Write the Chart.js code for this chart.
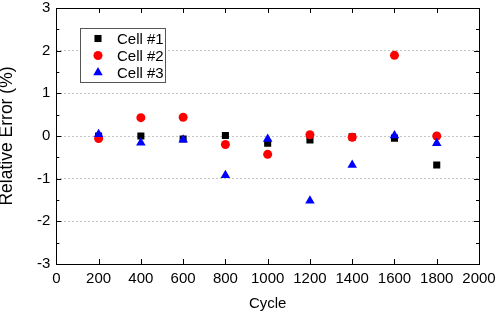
<!DOCTYPE html>
<html>
<head>
<meta charset="utf-8">
<script src="https://cdn.jsdelivr.net/npm/chart.js@4/dist/chart.umd.min.js"></script>
<style>
html, body { margin: 0; padding: 0; background: #fff; }
</style>
</head>
<body>
<canvas id="myChart" width="498" height="312"></canvas>
<script>
var cycles = [200, 400, 600, 800, 1000, 1200, 1400, 1600, 1800];
var cell1 = [0.0, 0.0, -0.07, 0.01, -0.17, -0.09, -0.02, -0.05, -0.68];
var cell2 = [-0.06, 0.43, 0.44, -0.2, -0.43, 0.03, -0.03, 1.89, 0.0];
var cell3 = [0.04, -0.16, -0.09, -0.92, -0.07, -1.52, -0.68, 0.01, -0.17];
var seriesNames = ['Cell #1', 'Cell #2', 'Cell #3'];
var xTicks = [0, 200, 400, 600, 800, 1000, 1200, 1400, 1600, 1800, 2000];
var yTicks = [-3, -2, -1, 0, 1, 2, 3];

function pts(vals) {
    return cycles.map(function(c, i){ return {x: c, y: vals[i]}; });
}

var fontFam = '"Liberation Sans", Arial, sans-serif';

// frame, inward ticks and the inset legend
var framePlugin = {
    id: 'frame',
    afterDraw: function(chart) {
        var ctx = chart.ctx, a = chart.chartArea;
        var xs = chart.scales.x, ys = chart.scales.y;
        ctx.save();
        ctx.strokeStyle = '#000';
        ctx.lineWidth = 1;
        ctx.strokeRect(Math.round(a.left) + 0.5, Math.round(a.top) + 0.5,
            Math.round(a.right - a.left), Math.round(a.bottom - a.top));
        ctx.beginPath();
        xTicks.forEach(function(v){
            var px = Math.round(xs.getPixelForValue(v)) + 0.5;
            ctx.moveTo(px, a.bottom); ctx.lineTo(px, a.bottom - 5);
            ctx.moveTo(px, a.top); ctx.lineTo(px, a.top + 5);
        });
        for (var v = -3; v <= 3; v += 0.5) {
            var py = Math.round(ys.getPixelForValue(v)) + 0.5;
            var len = (v % 1 === 0) ? 5 : 3;
            ctx.moveTo(a.left, py); ctx.lineTo(a.left + len, py);
            ctx.moveTo(a.right, py); ctx.lineTo(a.right - len, py);
        }
        ctx.stroke();

        // legend box
        var bx = 80.5, by = 28.5, bw = 85, bh = 54;
        ctx.fillStyle = '#fff';
        ctx.fillRect(bx, by, bw, bh);
        ctx.strokeStyle = '#555';
        ctx.strokeRect(bx, by, bw, bh);
        ctx.font = '15px ' + fontFam;
        ctx.textBaseline = 'middle';
        ctx.textAlign = 'left';
        chart.data.datasets.forEach(function(ds, i){
            var cy = by + 10 + i * 17;
            ctx.fillStyle = ds.backgroundColor;
            Chart.helpers.drawPoint(ctx, {pointStyle: ds.pointStyle, radius: ds.pointRadius, borderWidth: 0}, 98, cy);
            ctx.fillStyle = '#000';
            ctx.fillText(ds.label, 117, cy + 1);
        });
        ctx.restore();
    }
};

var ctx = document.getElementById('myChart').getContext('2d');
var myChart = new Chart(ctx, {
    type: 'scatter',
    data: {
        datasets: [{
            label: seriesNames[0],
            data: pts(cell1),
            pointStyle: 'rect',
            pointRadius: 5,
            backgroundColor: '#000',
            borderWidth: 0,
            order: 2
        }, {
            label: seriesNames[1],
            data: pts(cell2),
            pointStyle: 'circle',
            pointRadius: 4.5,
            backgroundColor: '#ff0000',
            borderWidth: 0,
            order: 1
        }, {
            label: seriesNames[2],
            data: pts(cell3),
            pointStyle: 'triangle',
            pointRadius: 5.5,
            backgroundColor: '#0000ff',
            borderWidth: 0,
            order: 0
        }]
    },
    options: {
        responsive: false,
        animation: false,
        layout: { padding: { top: 8, right: 19, left: -3, bottom: -1 } },
        plugins: {
            legend: { display: false },
            tooltip: { enabled: false }
        },
        scales: {
            x: {
                type: 'linear',
                min: 0, max: 2000,
                afterBuildTicks: function(s){ s.ticks = xTicks.map(function(v){ return {value: v}; }); },
                afterFit: function(s){ s.paddingRight = 0; },
                grid: { display: false, drawTicks: false },
                border: { display: false },
                ticks: { color: '#000', padding: 6, maxRotation: 0, font: { family: fontFam, size: 15 },
                    callback: function(v){ return String(v); } },
                title: { display: true, text: 'Cycle', color: '#000', padding: { top: 1, bottom: 0 }, font: { family: fontFam, size: 15 } }
            },
            y: {
                min: -3, max: 3,
                afterBuildTicks: function(s){ s.ticks = yTicks.map(function(v){ return {value: v}; }); },
                afterFit: function(s){ s.paddingTop = 0; s.paddingBottom = 0; },
                grid: {
                    drawTicks: false,
                    lineWidth: 1,
                    color: function(c){ return (c.tick && Math.abs(c.tick.value) === 3) ? 'rgba(0,0,0,0)' : '#c4c4c4'; }
                },
                border: { display: false, dash: [2, 2] },
                ticks: { color: '#000', padding: 6, font: { family: fontFam, size: 15 } },
                title: { display: true, text: 'Relative Error (%)', color: '#000', padding: { top: 0, bottom: 13 }, font: { family: fontFam, size: 17.5 } }
            }
        }
    },
    plugins: [framePlugin]
});
</script>
</body>
</html>
